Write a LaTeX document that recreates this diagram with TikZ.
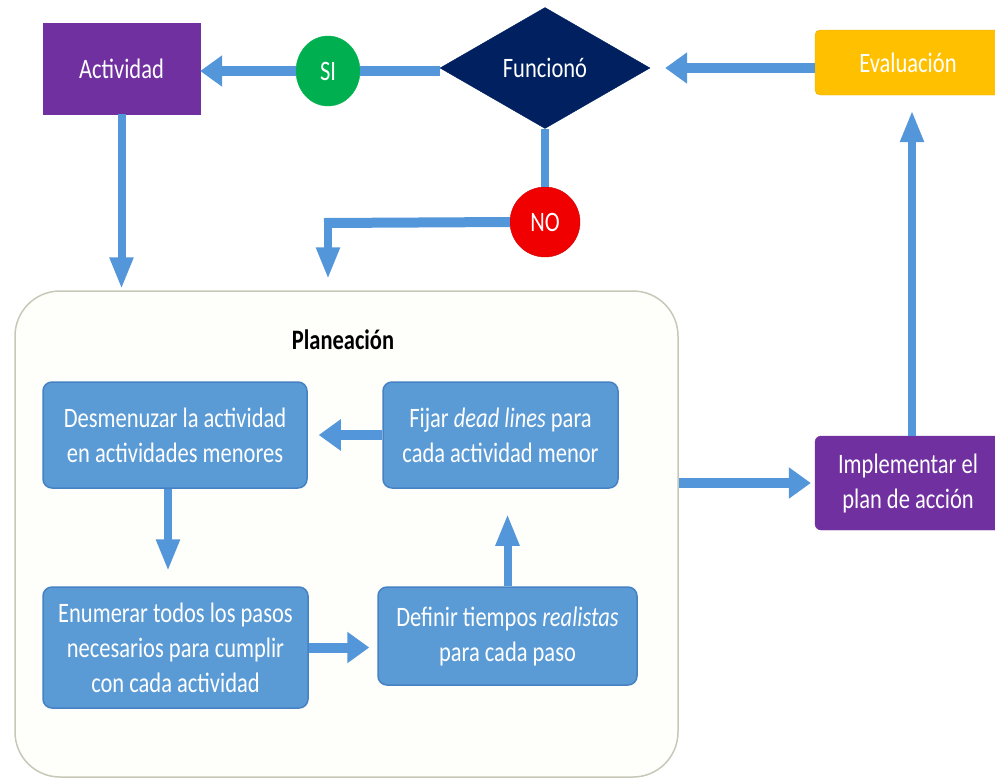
\documentclass[tikz,border=0pt]{standalone}
\usepackage{fontspec}
\setmainfont{Carlito}
\usepackage{graphicx}
\usetikzlibrary{shapes.geometric,arrows.meta}
\definecolor{purp}{RGB}{112,48,160}
\definecolor{navy}{RGB}{0,32,96}
\definecolor{sigreen}{RGB}{0,176,80}
\definecolor{nored}{RGB}{240,0,0}
\definecolor{evgold}{RGB}{255,192,0}
\definecolor{boxblue}{RGB}{91,155,213}
\definecolor{boxedge}{RGB}{70,130,195}
\definecolor{arrowc}{RGB}{84,150,218}
\definecolor{planfill}{RGB}{254,254,250}
\definecolor{planedge}{RGB}{200,200,185}
\newcommand\vs[1]{\scalebox{1}[1.25]{#1}}
\tikzset{
  basetxt/.style={font=\fontsize{22.5}{35}\selectfont, align=center, inner sep=0pt, text=white},
  purpbox/.style={basetxt, rectangle, fill=purp, draw=purp},
  bluebox/.style={basetxt, rectangle, rounded corners=9pt, fill=boxblue, draw=boxedge, line width=1.5pt},
  harrow/.style={draw=arrowc, line width=10pt, -{Triangle[width=30pt,length=22pt]}},
  varrow/.style={draw=arrowc, line width=8pt, -{Triangle[width=22pt,length=32pt]}},
  hline/.style={draw=arrowc, line width=10pt},
  vline/.style={draw=arrowc, line width=8pt},
}
\begin{document}
\begin{tikzpicture}[x=1pt,y=-1pt]
\useasboundingbox (0,0) rectangle (995,780);

% container
\node[rectangle, rounded corners=45pt, fill=planfill, draw=planedge, line width=1.5pt,
      minimum width=663pt, minimum height=486pt, inner sep=0pt] (plan) at (346.5,534) {};
\node[font=\fontsize{22.5}{35}\selectfont\bfseries, inner sep=0pt] (title) at (343,340) {\vs{Planeación}};

% top row
\node[purpbox, minimum width=157pt, minimum height=91pt] (act) at (121.5,68.5) {\vs{Actividad}};
\node[basetxt, ellipse, fill=sigreen, draw=sigreen, minimum width=64pt, minimum height=70pt] (si) at (328,71) {\vs{SI}};
\node[basetxt, diamond, fill=navy, draw=navy, minimum width=210pt, minimum height=121pt] (fun) at (545,68) {\vs{Funcionó}};
\node[basetxt, rectangle, rounded corners=5pt, fill=evgold, draw=evgold!90!black, minimum width=186pt, minimum height=65pt] (ev) at (908,62.5) {\vs{Evaluación}};
\node[basetxt, circle, fill=nored, draw=nored!85!black, minimum size=70pt] (no) at (545,222) {\vs{NO}};
\coordinate (nocorner) at (328,223);

% implementation
\node[purpbox, rounded corners=6pt, minimum width=186pt, minimum height=94pt] (impl) at (908,483) {\vs{Implementar el}\\\vs{plan de acción}};

% planning boxes
\node[bluebox, minimum width=264pt, minimum height=106pt] (des) at (175,435) {\vs{Desmenuzar la actividad}\\\vs{en actividades menores}};
\node[bluebox, minimum width=235pt, minimum height=106pt] (fij) at (500.5,435) {\vs{Fijar \textit{dead lines} para}\\\vs{cada actividad menor}};
\node[bluebox, minimum width=265pt, minimum height=121pt] (enu) at (175.5,647.5) {\vs{Enumerar todos los pasos}\\\vs{necesarios para cumplir}\\\vs{con cada actividad}};
\node[bluebox, minimum width=259pt, minimum height=98pt] (def) at (507.5,636) {\vs{Definir tiempos \textit{realistas}}\\\vs{para cada paso}};

% connectors
\draw[hline] (fun.west |- si.east) -- (si.east);
\draw[harrow] (si.west) -- (si.west -| act.east);
\draw[harrow, shorten >=15pt] (ev.west |- fun.east) -- (fun.east);
\draw[varrow, shorten >=1pt] (act.south) -- (act.south |- plan.north);
\draw[vline] (fun.south) -- (no.north);
\draw[hline] (no.west) -- ([xshift=-4pt]nocorner);
\draw[varrow, shorten >=11pt] (nocorner) -- (nocorner |- plan.north);
\draw[harrow, shorten >=4pt] (plan.east |- impl.west) -- (impl.west);
\draw[varrow, shorten >=15pt] ([xshift=4pt]impl.north) -- ([xshift=4pt]impl.north |- ev.south);
\draw[harrow, shorten >=11pt] (fij.west) -- (fij.west -| des.east);
\draw[varrow, shorten >=15pt] ([xshift=-7pt]des.south) -- ([xshift=-7pt]des.south |- enu.north);
\draw[harrow, shorten >=8pt] (enu.east) -- (enu.east -| def.west);
\draw[varrow, shorten >=25pt] (def.north) -- (def.north |- fij.south);
\end{tikzpicture}
\end{document}
